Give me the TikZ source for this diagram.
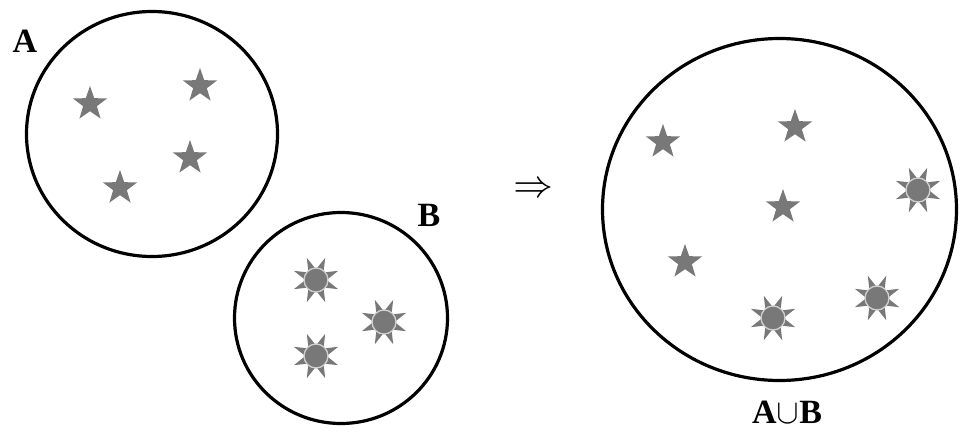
\documentclass[tikz,border=0pt]{standalone}
\usepackage{fontspec}
\setmainfont{Liberation Serif}
\usepackage{unicode-math}
\setmathfont{Latin Modern Math}
\usetikzlibrary{shapes.geometric}
\definecolor{markgray}{RGB}{120,120,120}
\tikzset{
  ring/.style={draw=black, line width=3.2pt, ellipse, inner sep=0pt},
  lab/.style={font=\fontsize{34}{38}\selectfont\bfseries, inner sep=0pt},
  pics/starmark/.style={code={
    \fill[markgray] (-90:18) \foreach \i in {0,...,4}{ -- (-90+\i*72:18) -- (-54+\i*72:7.2)} -- cycle;
  }},
  pics/sunmark/.style={code={
    \fill[markgray] \foreach \i in {0,...,7}{ (\i*45+22.5:24) -- (\i*45+22.5+21:11) -- (\i*45+22.5-21:11) -- cycle};
    \filldraw[fill=markgray, draw=white!65!markgray, line width=1.3pt] (0,0) circle (12);
  }}
}
\begin{document}
\begin{tikzpicture}[x=1pt,y=-1pt]
\useasboundingbox (0,0) rectangle (961,434);
% circles
\node[ring, minimum width=251pt, minimum height=245pt] (setA) at (152,134) {};
\node[ring, minimum width=213pt, minimum height=211pt] (setB) at (341,318) {};
\node[ring, minimum width=354pt, minimum height=342pt] (setU) at (779.5,209.5) {};
% labels
\node[lab] (la) at (25,41) {A};
\node[lab] (lb) at (429,215) {B};
\node[lab] (lu) at (787,413) {A$\cup$B};
\node[inner sep=0pt, font=\fontsize{40}{44}\selectfont] (arr) at (533,187) {$\Rightarrow$};
% stars in A
\pic at (90,104) {starmark};
\pic at (200,86) {starmark};
\pic at (190,158) {starmark};
\pic at (120,188) {starmark};
% suns in B
\pic at (316,280) {sunmark};
\pic at (384,322) {sunmark};
\pic at (316,356) {sunmark};
% union
\pic at (663,142) {starmark};
\pic at (795,127) {starmark};
\pic at (783,207) {starmark};
\pic at (685,262) {starmark};
\pic at (918,190) {sunmark};
\pic at (773,318) {sunmark};
\pic at (877,298) {sunmark};
\end{tikzpicture}
\end{document}
